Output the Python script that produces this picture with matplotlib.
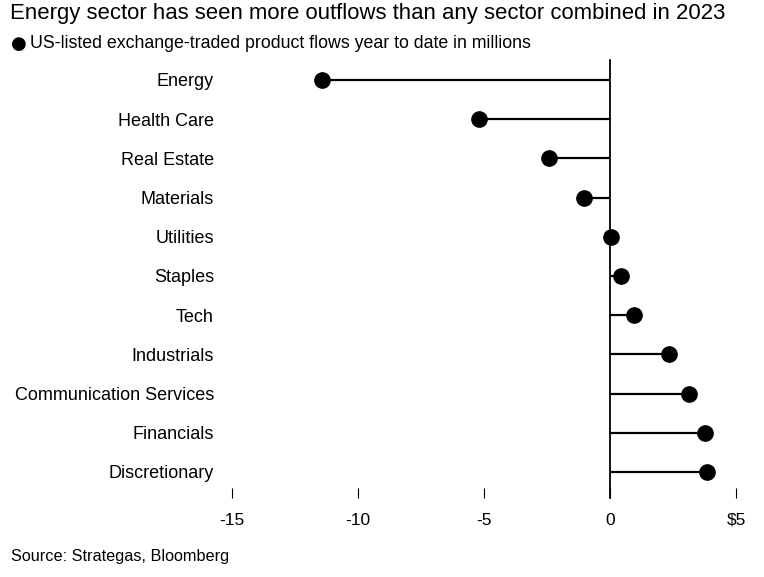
import matplotlib.pyplot as plt

plt.rcParams['font.family'] = ['Liberation Sans', 'DejaVu Sans']

# sector flows, year to date, in millions
sectors = ["Energy", "Health Care", "Real Estate", "Materials", "Utilities",
           "Staples", "Tech", "Industrials", "Communication Services",
           "Financials", "Discretionary"]
flows = [-11.42, -5.20, -2.42, -1.02, 0.04, 0.45, 0.94, 2.33, 3.15, 3.77, 3.85]

xticks = [-15, -10, -5, 0, 5]
xtick_labels = ["-15", "-10", "-5", "0", "$5"]

W, H = 764, 577
fig = plt.figure(figsize=(W / 100, H / 100), dpi=100)
ax = fig.add_axes([232 / W, 1 - 488 / H, (736 - 232) / W, (488 - 60) / H])

ypos = list(range(len(sectors)))
ax.hlines(ypos, 0, flows, color="black", linewidth=1.6)
ax.plot(flows, ypos, "o", color="black", markersize=11)
ax.axvline(0, color="black", linewidth=1.3, ymin=-0.023, clip_on=False)

ax.set_xlim(-15, 5)
ax.set_ylim(10.41, -0.51)

ax.set_xticks(xticks)
ax.set_xticklabels(xtick_labels, fontsize=12.5)
ax.set_yticks(ypos)
ax.set_yticklabels(sectors, fontsize=13)
ax.tick_params(axis="y", length=0, pad=13)
ax.tick_params(axis="x", length=7, width=0.8, pad=11)

for s in ax.spines.values():
    s.set_visible(False)

fig.text(10 / W, 1 - 14 / H, "Energy sector has seen more outflows than any sector combined in 2023",
         fontsize=15.9, va="center", ha="left")
fig.text(11 / W, 1 - 44 / H, "●", fontsize=13, va="center", ha="left", family=['DejaVu Sans'])
fig.text(30 / W, 1 - 44 / H, "US-listed exchange-traded product flows year to date in millions",
         fontsize=12.8, va="center", ha="left")
fig.text(11 / W, 1 - 556 / H, "Source: Strategas, Bloomberg", fontsize=11.7, va="center", ha="left")

fig.savefig("out.png", dpi=100)
